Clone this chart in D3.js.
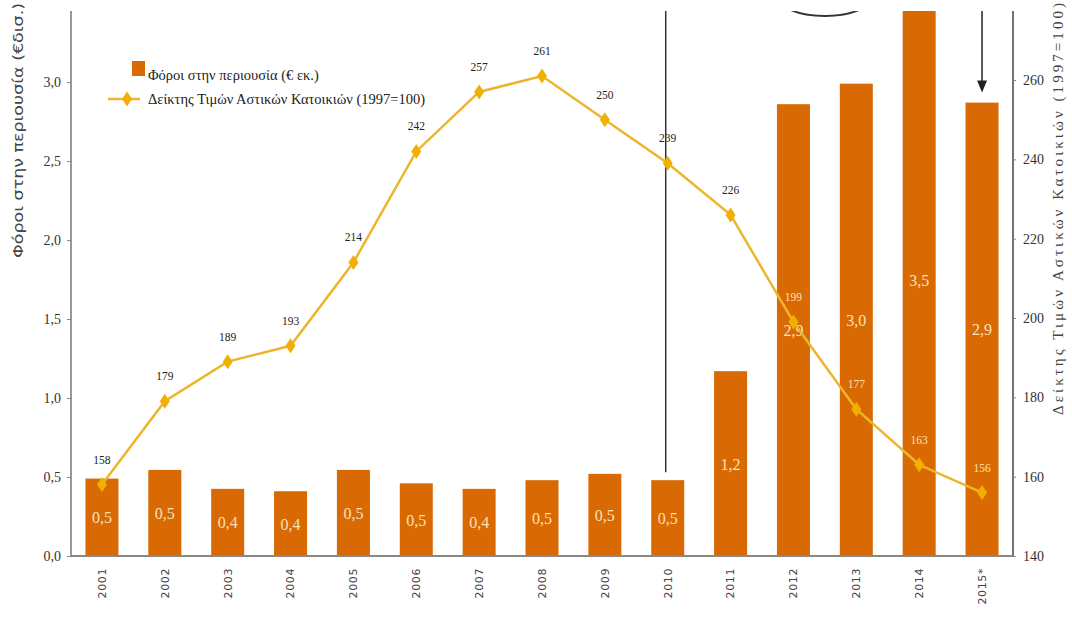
<!DOCTYPE html>
<html lang="el">
<head>
<meta charset="utf-8">
<script src="https://cdn.jsdelivr.net/npm/d3@7"></script>
<style>
  html, body { margin: 0; padding: 0; background: #fff; }
  svg { display: block; }
</style>
</head>
<body>
<svg id="chart" width="1072" height="630"></svg>
<script>
// Years on the x axis
const years = ["2001","2002","2003","2004","2005","2006","2007","2008","2009","2010","2011","2012","2013","2014","2015*"];
// Property taxes, € billion (bars)
const taxValues = [0.49, 0.545, 0.425, 0.41, 0.545, 0.46, 0.425, 0.48, 0.52, 0.48, 1.17, 2.86, 2.99, 3.5, 2.87];
// Urban residential price index, 1997=100 (line)
const priceIndex = [158, 179, 189, 193, 214, 242, 257, 261, 250, 239, 226, 199, 177, 163, 156];
// Axis ticks
const leftTicks = [0, 0.5, 1.0, 1.5, 2.0, 2.5, 3.0];
const rightTicks = [140, 160, 180, 200, 220, 240, 260];

const BAR = "#D96A03";
const LINE = "#ECB52C";
const DIAMOND = "#F1B000";
const SERIF = "Liberation Serif, serif";

const svg = d3.select("#chart");
const plotLeft = 71, plotRight = 1013, plotTop = 11, plotBottom = 556;

const el = d3.formatLocale({decimal: ",", thousands: ".", grouping: [3], currency: ["€", ""]});
const fmt1 = el.format(".1f");

const x = d3.scaleBand().domain(years).range([plotLeft, plotRight]).paddingInner(0.475).paddingOuter(0.23);
const yL = d3.scaleLinear().domain([0, 3.45]).range([plotBottom, plotTop]);
const yR = d3.scaleLinear().domain([140, 277.4]).range([plotBottom, plotTop]);

svg.append("defs").append("clipPath").attr("id", "plot")
  .append("rect").attr("x", 0).attr("y", plotTop).attr("width", 1072).attr("height", plotBottom - plotTop + 2);

const plot = svg.append("g").attr("clip-path", "url(#plot)");

// Bars
plot.selectAll("rect.bar").data(taxValues).join("rect")
  .attr("class", "bar")
  .attr("x", (d, i) => x(years[i]))
  .attr("width", x.bandwidth())
  .attr("y", d => yL(d))
  .attr("height", d => yL(0) - yL(d))
  .attr("fill", BAR);

// Bar value labels
plot.selectAll("text.barlab").data(taxValues).join("text")
  .attr("class", "barlab")
  .attr("x", (d, i) => x(years[i]) + x.bandwidth() / 2)
  .attr("y", d => (yL(d) + yL(0)) / 2 + 6)
  .attr("text-anchor", "middle")
  .attr("font-family", SERIF)
  .attr("font-size", 16)
  .attr("fill", "#FBE0BA")
  .text(d => fmt1(d));

// Annotations: vertical marker at 2010, arrow at 2015, ellipse near the top
const cx = i => x(years[i]) + x.bandwidth() / 2;
plot.append("line")
  .attr("x1", cx(9) - 2).attr("x2", cx(9) - 2)
  .attr("y1", 0).attr("y2", yL(taxValues[9]) - 8)
  .attr("stroke", "#333").attr("stroke-width", 1.5);

const arrowTip = yL(taxValues[14]) - 10;
plot.append("line")
  .attr("x1", cx(14)).attr("x2", cx(14))
  .attr("y1", 0).attr("y2", arrowTip - 8)
  .attr("stroke", "#222").attr("stroke-width", 1.5);
plot.append("path")
  .attr("d", `M${cx(14) - 5},${arrowTip - 12} L${cx(14) + 5},${arrowTip - 12} L${cx(14)},${arrowTip} Z`)
  .attr("fill", "#222");

plot.append("ellipse")
  .attr("cx", (cx(11) + cx(12)) / 2).attr("cy", -4)
  .attr("rx", 48).attr("ry", 20)
  .attr("fill", "none").attr("stroke", "#333").attr("stroke-width", 2);

// Price index line
const line = d3.line().x((d, i) => cx(i)).y(d => yR(d));
plot.append("path").datum(priceIndex)
  .attr("d", line)
  .attr("fill", "none")
  .attr("stroke", LINE)
  .attr("stroke-width", 2.5);

const diamond = "M0,-7.5 L5,0 L0,7.5 L-5,0 Z";
plot.selectAll("path.pt").data(priceIndex).join("path")
  .attr("class", "pt")
  .attr("transform", (d, i) => `translate(${cx(i)},${yR(d)})`)
  .attr("d", diamond)
  .attr("fill", DIAMOND);

// Index value labels: light on top of a bar, dark otherwise
plot.selectAll("text.ptlab").data(priceIndex).join("text")
  .attr("class", "ptlab")
  .attr("x", (d, i) => cx(i))
  .attr("y", d => yR(d) - 21)
  .attr("text-anchor", "middle")
  .attr("font-family", SERIF)
  .attr("font-size", 11.5)
  .attr("fill", (d, i) => (yR(d) - 26 > yL(taxValues[i]) ? "#FBE0BA" : "#222"))
  .text(d => d);

// Left axis
const gL = svg.append("g").attr("transform", `translate(${plotLeft},0)`);
gL.call(d3.axisLeft(yL).tickValues(leftTicks).tickSize(4).tickPadding(6).tickFormat(fmt1));
gL.select(".domain").attr("stroke", "#777").attr("stroke-width", 1.5).attr("d", `M0,${plotTop}V${plotBottom}`);
gL.selectAll(".tick line").attr("stroke", "#888");
gL.selectAll(".tick text").attr("font-family", SERIF).attr("font-size", 14).attr("fill", "#333");

// Right axis
const gR = svg.append("g").attr("transform", `translate(${plotRight},0)`);
gR.call(d3.axisRight(yR).tickValues(rightTicks).tickSize(3).tickPadding(7));
gR.select(".domain").attr("stroke", "#444").attr("stroke-width", 1.5).attr("d", `M0,${plotTop}V${plotBottom}`);
gR.selectAll(".tick line").attr("stroke", "#888");
gR.selectAll(".tick text").attr("font-family", SERIF).attr("font-size", 14).attr("fill", "#333");

// Bottom axis
const gB = svg.append("g").attr("transform", `translate(0,${plotBottom})`);
gB.call(d3.axisBottom(x).tickSize(0).tickPadding(0));
gB.select(".domain").attr("stroke", "#888").attr("stroke-width", 2).attr("d", `M${plotLeft},0H${plotRight}`);
gB.selectAll(".tick text")
  .attr("transform", "rotate(-90)")
  .attr("text-anchor", "end")
  .attr("x", -12).attr("y", 0).attr("dy", "0.35em")
  .attr("font-family", "DejaVu Sans, sans-serif")
  .attr("font-size", 11)
  .attr("letter-spacing", 0.6)
  .attr("fill", "#444");

// Axis titles
svg.append("text")
  .attr("transform", "translate(23,258) rotate(-90)")
  .attr("text-anchor", "start")
  .attr("font-family", "DejaVu Sans, sans-serif")
  .attr("font-size", 14)
  .attr("fill", "#444")
  .attr("textLength", 255).attr("lengthAdjust", "spacingAndGlyphs")
  .text("Φόροι στην περιουσία (€δισ.)");

svg.append("text")
  .attr("transform", "translate(1063,415) rotate(-90)")
  .attr("text-anchor", "start")
  .attr("font-family", SERIF)
  .attr("font-size", 15)
  .attr("fill", "#444")
  .attr("textLength", 412).attr("lengthAdjust", "spacing")
  .text("Δείκτης Τιμών Αστικών Κατοικιών (1997=100)");

// Legend
const lg = svg.append("g");
lg.append("rect").attr("x", 132).attr("y", 61).attr("width", 13).attr("height", 15).attr("fill", BAR);
lg.append("text").attr("x", 148).attr("y", 80)
  .attr("font-family", SERIF).attr("font-size", 14.5).attr("fill", "#222")
  .text("Φόροι στην περιουσία (€ εκ.)");
lg.append("line").attr("x1", 108).attr("x2", 140).attr("y1", 99).attr("y2", 99)
  .attr("stroke", LINE).attr("stroke-width", 2.5);
lg.append("path").attr("transform", "translate(127,99)").attr("d", diamond).attr("fill", DIAMOND);
lg.append("text").attr("x", 148).attr("y", 104)
  .attr("font-family", SERIF).attr("font-size", 14.5).attr("fill", "#222")
  .text("Δείκτης Τιμών Αστικών Κατοικιών (1997=100)");
</script>
</body>
</html>
